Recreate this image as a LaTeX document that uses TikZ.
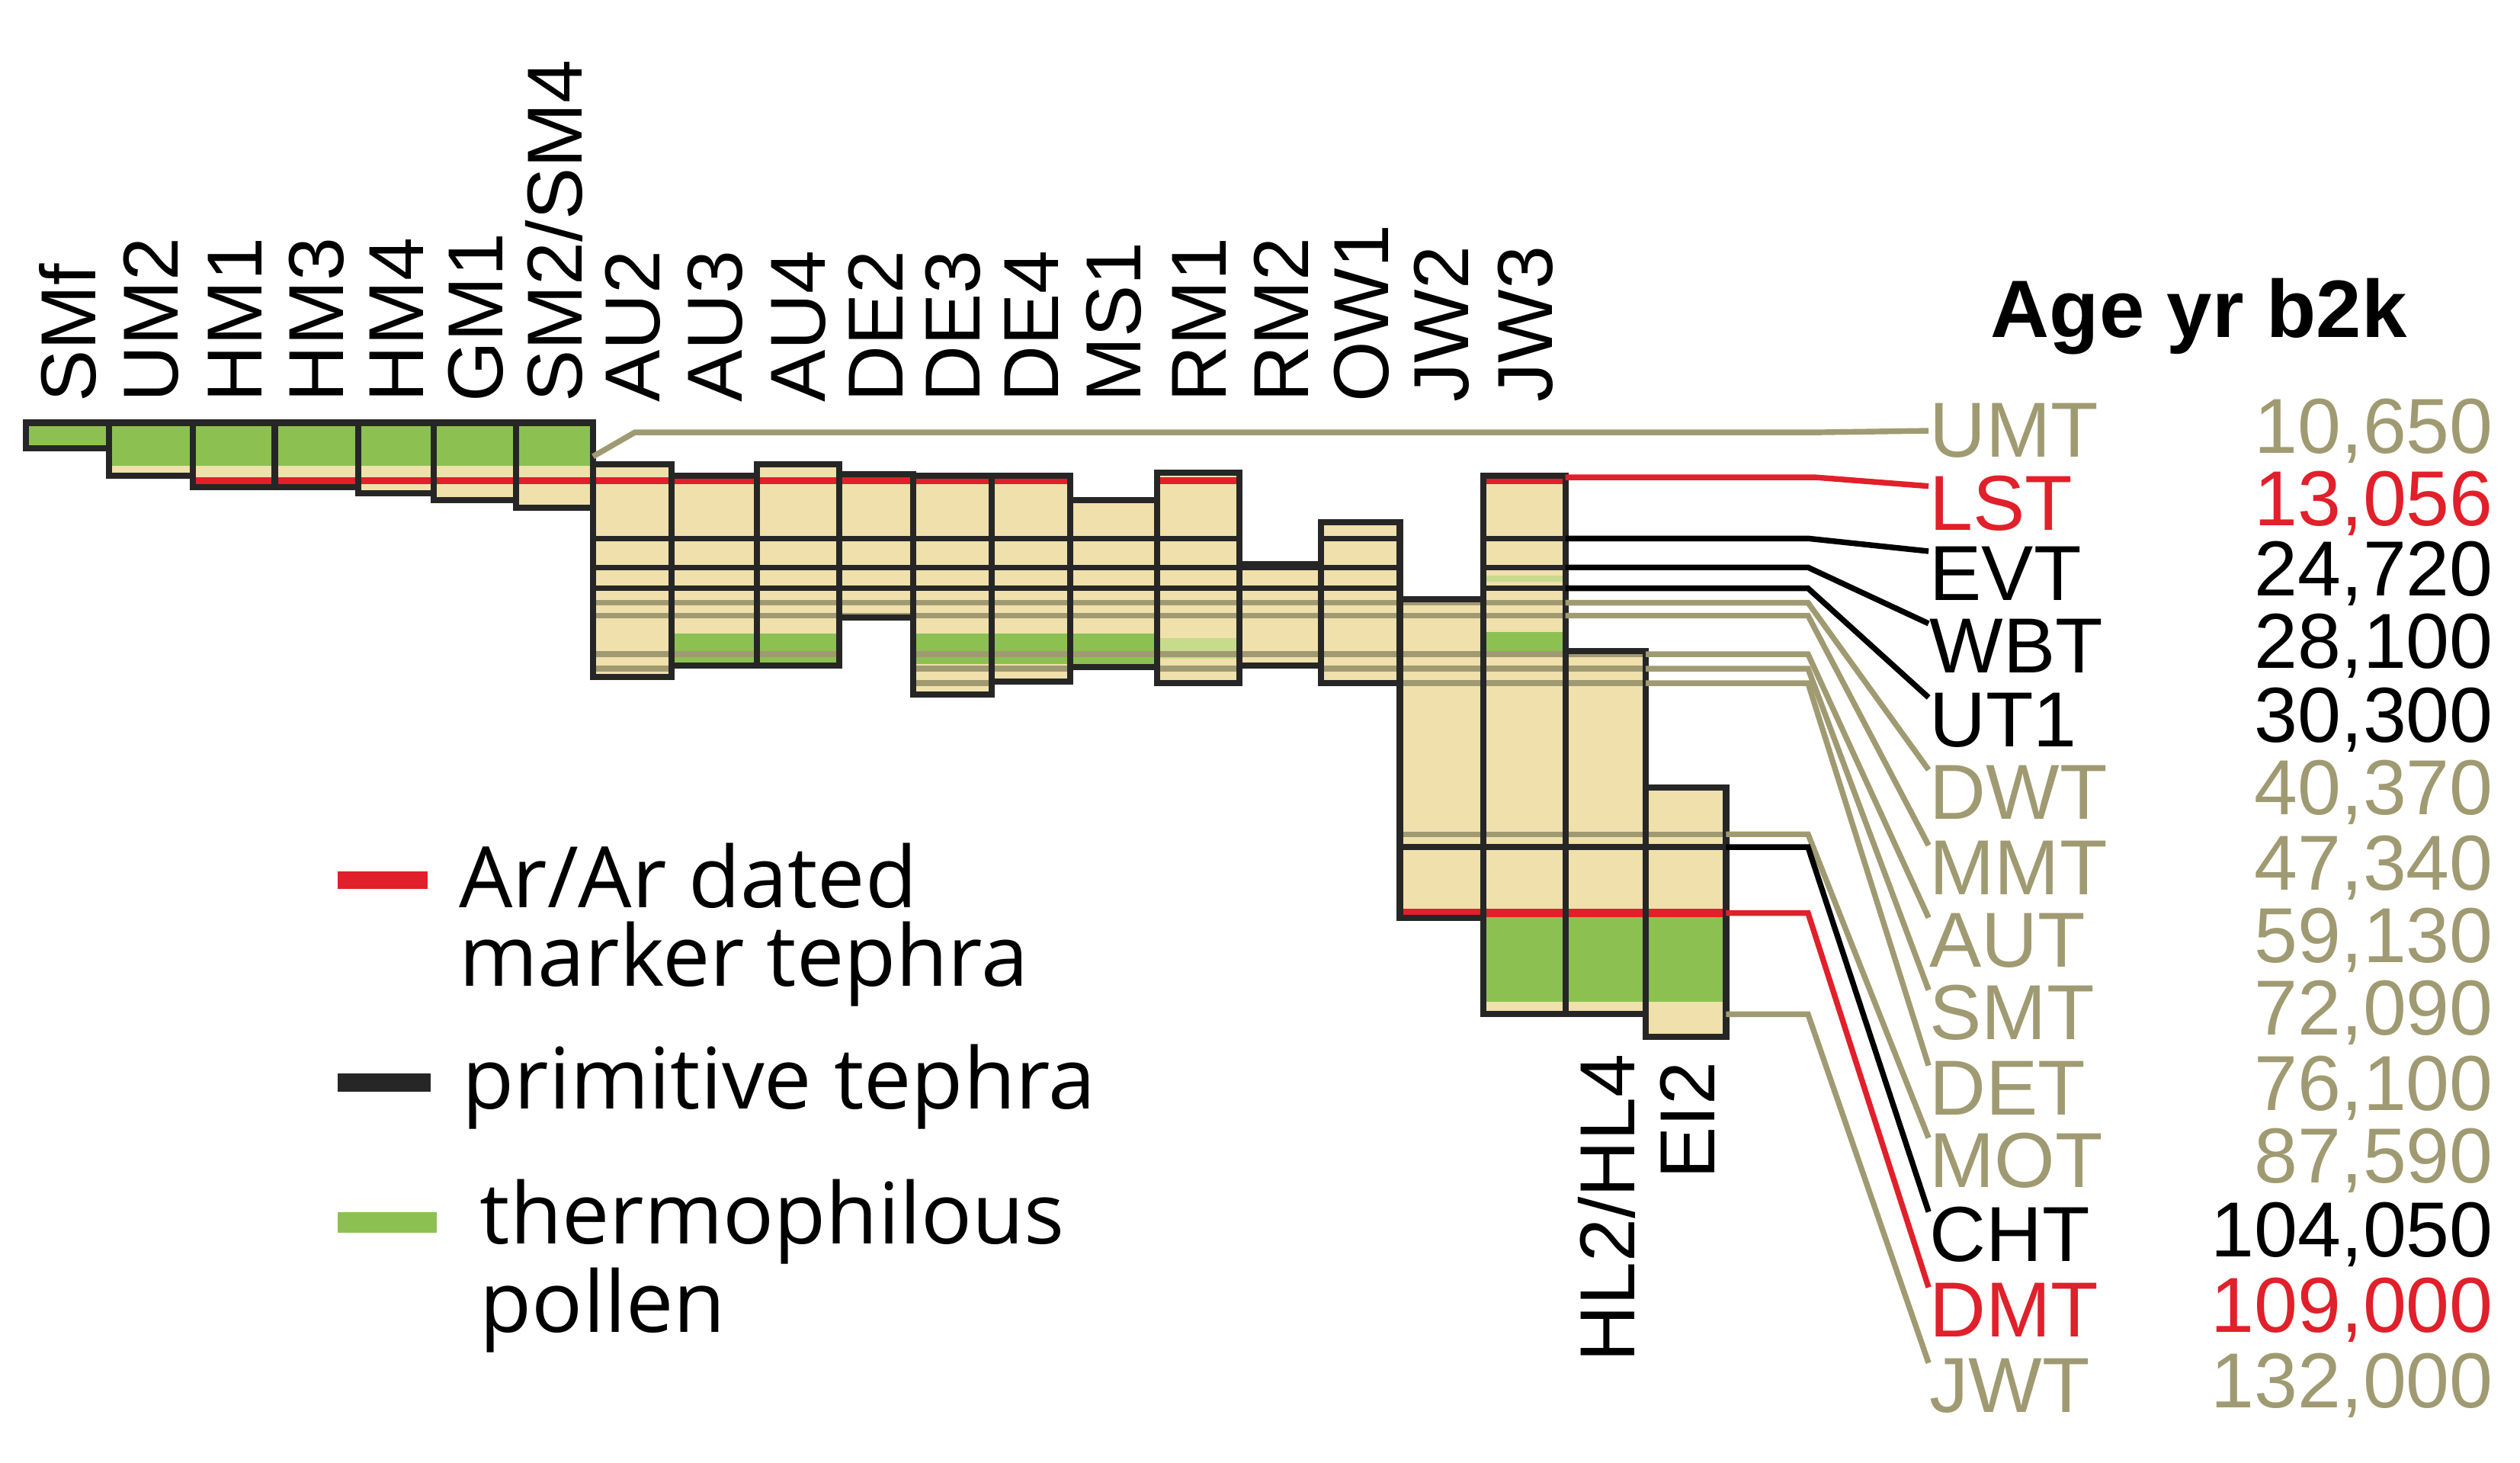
\documentclass[tikz,border=0pt]{standalone}
\usepackage{fontspec}
\setmainfont{Liberation Sans}
\newfontfamily\legfont{Open Sans}
\definecolor{tanf}{HTML}{EFE0AC}
\definecolor{grn}{HTML}{8CC152}
\definecolor{lgrn}{HTML}{C8DA8C}
\definecolor{tanl}{HTML}{A09A72}
\definecolor{redl}{HTML}{E0202A}
\tikzset{
  lab/.style={font=\fontsize{13.8}{15}\selectfont, inner sep=0pt},
  toplab/.style={lab, rotate=90, anchor=west},
  rlab/.style={lab, anchor=west},
  agelab/.style={lab, anchor=east},
  legtxt/.style={font=\legfont\fontsize{15}{17}\selectfont, anchor=west, inner sep=0pt, align=left},
  conn/.style={line width=1pt},
  outl/.style={draw=black!85, line width=1.1pt},
}
\begin{document}
\begin{tikzpicture}[x=0.01cm,y=-0.01cm]
\useasboundingbox (0,0) rectangle (1568,910);
\def\boxes{16/68/263/279, 68/120/263/296, 120/171/263/303, 171/223/263/303, 223/270/263/307, 270/321/263/311, 321/369/263/316, 369/418/289/421, 418/471/296/414, 471/522/289/414, 522/568/295/384, 568/617/296/432, 617/666/296/424, 666/720/311/415, 720/771/294/425, 771/822/351/414, 822/871/325/425, 871/923/373/571, 923/974/296/631, 974/1024/405/631, 1024/1074/490/645}
% fills
\foreach \a/\b/\c/\d in \boxes { \fill[tanf] (\a,\c) rectangle (\b,\d); }
\begin{scope}
\clip \foreach \a/\b/\c/\d in \boxes { (\a,\c) rectangle (\b,\d) };
\fill[grn] (16,263) rectangle (369,290);
\fill[grn] (418,394) rectangle (720,413);
\fill[lgrn] (720,397) rectangle (771,410);
\fill[grn] (923,393) rectangle (974,408);
\fill[grn] (923,570) rectangle (1074,623);
\draw[lgrn, line width=1.2pt] (923,360) -- (974,360);
\foreach \y in {335,353,366} \draw[black!85, line width=1pt] (369,\y) -- (1074,\y);
\foreach \y in {375,383,407,416,425} \draw[tanl, line width=1pt] (369,\y) -- (1074,\y);
\draw[tanl, line width=1pt] (871,519) -- (1074,519);
\draw[black!85, line width=1pt] (871,527) -- (1074,527);
\draw[redl, line width=1.3pt] (120,299) -- (1074,299);
\draw[redl, line width=1.5pt] (871,568) -- (1074,568);
\end{scope}
\foreach \a/\b/\c/\d in \boxes { \draw[outl] (\a,\c) rectangle (\b,\d); }
% top labels
\foreach \n/\x in {SMf/42, UM2/94, HM1/146, HM3/197, HM4/247, GM1/296, SM2\slash SM4/345, AU2/394, AU3/445, AU4/497, DE2/545, DE3/593, DE4/642, MS1/693, RM1/746, RM2/797, OW1/847, JW2/897, JW3/949}
  \node[toplab] (t\x) at (\x,251) {\n};
\node[lab, rotate=90, anchor=east] (tHL) at (1000,655) {HL2/HL4};
\node[lab, rotate=90, anchor=east] (tEI) at (1050,660) {EI2};
% right labels and ages
\node[lab, font=\bfseries\fontsize{14.4}{16}\selectfont, anchor=west] (head) at (1238,197) {Age yr b2k};
\foreach \n/\y/\col/\age in {UMT/268/tanl/{10,650}, LST/313/redl/{13,056}, EVT/357/black/{24,720}, WBT/402/black/{28,100}, UT1/448/black/{30,300}, DWT/493/tanl/{40,370}, MMT/540/tanl/{47,340}, AUT/585/tanl/{59,130}, SMT/630/tanl/{72,090}, DET/677/tanl/{76,100}, MOT/722/tanl/{87,590}, CHT/768/black/{104,050}, DMT/815/redl/{109,000}, JWT/862/tanl/{132,000}} {
  \node[rlab, text=\col] (l\n) at (1200,\y) {\n};
  \node[agelab, text=\col] (a\n) at (1552,\y) {\age};
}
% connectors
\coordinate (sUMT) at (369,284);
\draw[conn, tanl] (sUMT) -- (395,269) -- (1130,269) -- (lUMT.west);
\coordinate (sLST) at (974,297);
\draw[conn, redl] (sLST) -- (1130,297) -- ([yshift=3]lLST.west);
\foreach \n/\x/\y/\col in {EVT/974/335/black, WBT/974/353/black, UT1/974/366/black, DWT/974/375/tanl, MMT/974/383/tanl, AUT/1024/407/tanl, SMT/1024/416/tanl, DET/1024/425/tanl, MOT/1074/519/tanl, CHT/1074/527/black, DMT/1074/568/redl, JWT/1074/631/tanl} {
  \coordinate (s\n) at (\x,\y);
  \draw[conn, \col] (s\n) -- (1125,\y) -- ([yshift=4]l\n.west);
}
% legend
\fill[redl] (210,542) rectangle (266,553);
\node[legtxt] (g1) at (285,545) {Ar/Ar dated};
\node[legtxt] (g1b) at (285,600) {marker tephra};
\fill[black!85] (210,668) rectangle (268,679);
\node[legtxt] (g2) at (287,676) {primitive tephra};
\fill[grn] (210,754) rectangle (272,767);
\node[legtxt] (g3) at (298,760) {thermophilous};
\node[legtxt] (g3b) at (298,815) {pollen};
\end{tikzpicture}
\end{document}
